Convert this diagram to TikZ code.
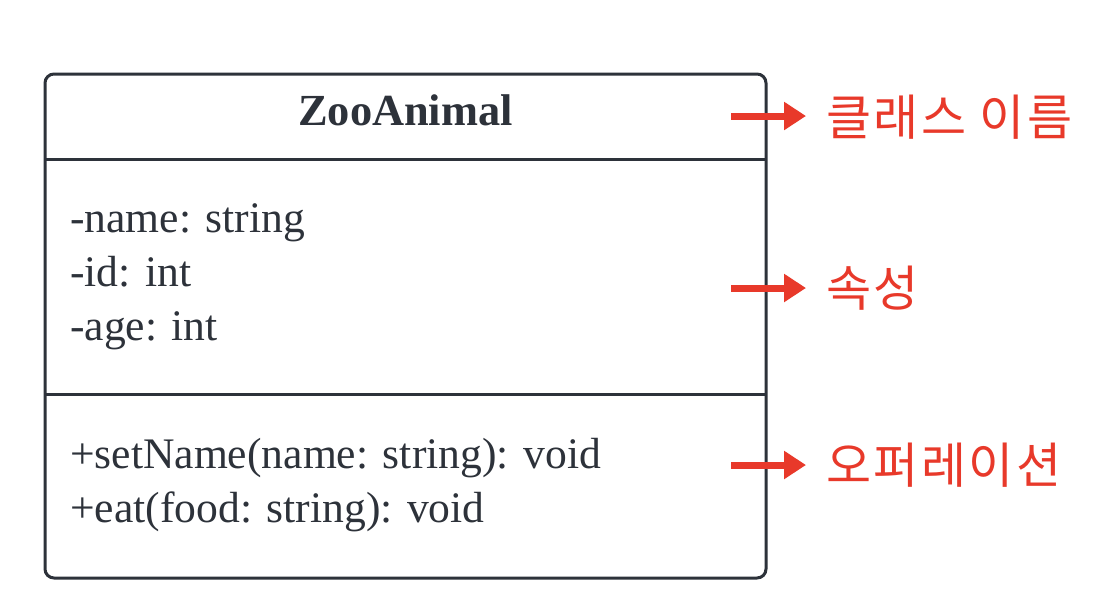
\documentclass[tikz,border=0pt]{standalone}
\usepackage{fontspec}
\setmainfont{Liberation Serif}
\newfontfamily\kofont[LetterSpace=5]{Noto Sans CJK KR}
\usetikzlibrary{arrows.meta}
\definecolor{umlink}{HTML}{2D323A}
\definecolor{annred}{HTML}{E8392A}
\begin{document}
\begin{tikzpicture}[x=1pt,y=-1pt,
  boxline/.style={draw=umlink,line width=3pt},
  membertxt/.style={anchor=base west,inner sep=0pt,text=umlink,font=\fontsize{43.6}{50}\selectfont},
  titletxt/.style={anchor=base,inner sep=0pt,text=umlink,font=\fontsize{44.4}{50}\selectfont\bfseries},
  annarrow/.style={draw=annred,line width=7pt,-{Triangle[length=22pt,width=27pt]}},
  anntxt/.style={anchor=west,inner sep=0pt,text=annred,font=\kofont\fontsize{49}{54}\selectfont}]
\useasboundingbox (0,0) rectangle (1110,614);
\fill[white] (0,0) rectangle (1110,614);
\draw[boxline,rounded corners=9pt] (45,74) rectangle (766,578);
\coordinate (s1l) at (45,159); \coordinate (s1r) at (766,159);
\coordinate (s2l) at (45,394); \coordinate (s2r) at (766,394);
\draw[boxline] (s1l) -- (s1r);
\draw[boxline] (s2l) -- (s2r);
\node[titletxt] (title) at (405.5,125) {ZooAnimal};
\node[membertxt] (a1) at (70,232) {-name: string};
\node[membertxt] (a2) at (70,286) {-id: int};
\node[membertxt] (a3) at (70,340) {-age: int};
\node[membertxt] (o1) at (70,468) {+setName(name: string): void};
\node[membertxt] (o2) at (70,522) {+eat(food: string): void};
\node[anntxt] (l1) at (826,117) {클래스 이름};
\node[anntxt] (l2) at (826,288) {속성};
\node[anntxt] (l3) at (826,465) {오퍼레이션};
\coordinate (c1) at (731,116);
\coordinate (c2) at (731,288);
\coordinate (c3) at (731,465);
\draw[annarrow] (c1) -- (806,116);
\draw[annarrow] (c2) -- (806,288);
\draw[annarrow] (c3) -- (806,465);
\end{tikzpicture}
\end{document}
